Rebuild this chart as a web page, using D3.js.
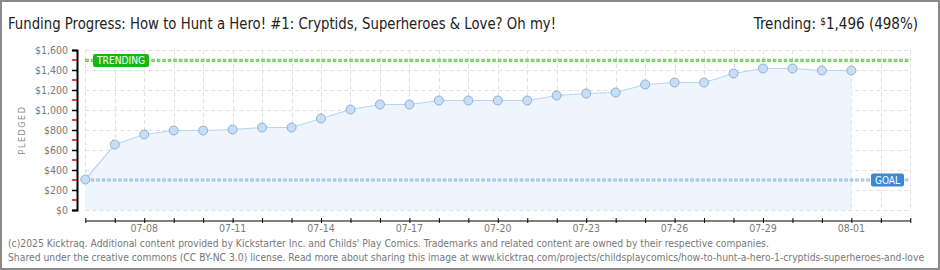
<!DOCTYPE html>
<html>
<head>
<meta charset="utf-8">
<script src="https://cdn.jsdelivr.net/npm/d3@7"></script>
<style>
  body { margin: 0; background: #fff; }
  svg { display: block; }
</style>
</head>
<body>
<div id="chart"></div>
<script>
// data
var days = ["2025-07-06","2025-07-07","2025-07-08","2025-07-09","2025-07-10","2025-07-11","2025-07-12",
  "2025-07-13","2025-07-14","2025-07-15","2025-07-16","2025-07-17","2025-07-18","2025-07-19","2025-07-20",
  "2025-07-21","2025-07-22","2025-07-23","2025-07-24","2025-07-25","2025-07-26","2025-07-27","2025-07-28",
  "2025-07-29","2025-07-30","2025-07-31","2025-08-01"];
var pledged = [305, 655, 755, 795, 795, 805, 825, 825, 915, 1005, 1055, 1055, 1095, 1095, 1095,
  1095, 1145, 1165, 1175, 1255, 1275, 1275, 1365, 1415, 1415, 1395, 1395];
var domainEnd = "2025-08-03";
var goal = 300;
var trending = 1496;
var trendingPct = 498;
var yTicks = [0, 200, 400, 600, 800, 1000, 1200, 1400, 1600];
var yMinorTicks = [100, 300, 500, 700, 900, 1100, 1300, 1500];
var xLabelDays = ["2025-07-08","2025-07-11","2025-07-14","2025-07-17","2025-07-20","2025-07-23","2025-07-26","2025-07-29","2025-08-01"];
var title = "Funding Progress: How to Hunt a Hero! #1: Cryptids, Superheroes & Love? Oh my!";
var footer1 = "(c)2025 Kicktraq. Additional content provided by Kickstarter Inc. and Childs' Play Comics. Trademarks and related content are owned by their respective companies.";
var footer2 = "Shared under the creative commons (CC BY-NC 3.0) license. Read more about sharing this image at www.kicktraq.com/projects/childsplaycomics/how-to-hunt-a-hero-1-cryptids-superheroes-and-love";

var width = 940, height = 270;
var parse = d3.utcParse("%Y-%m-%d");
var data = days.map(function (d, i) { return { date: parse(d), value: pledged[i] }; });
var condensed = '"DejaVu Sans Condensed", "DejaVu Sans", sans-serif';

var svg = d3.select('#chart').append('svg')
  .attr('width', width).attr('height', height)
  .style('font-family', condensed);

svg.append('rect').attr('width', width).attr('height', height).attr('fill', '#fff');

var x = d3.scaleUtc().domain([parse(days[0]), parse(domainEnd)]).range([85.3, 910.3]);
var y = d3.scaleLinear().domain([0, 1600]).range([210, 50]);
var allDays = d3.utcDay.range(parse(days[0]), d3.utcDay.offset(parse(domainEnd), 1));

// grid
var grid = svg.append('g').attr('stroke', '#e0e0e0').attr('stroke-dasharray', '4,3');
grid.selectAll('line.v').data(allDays).enter().append('line')
  .attr('x1', function (d) { return Math.round(x(d)) + 0.5; })
  .attr('x2', function (d) { return Math.round(x(d)) + 0.5; })
  .attr('y1', y(1600)).attr('y2', y(0));
grid.selectAll('line.h').data(yTicks).enter().append('line')
  .attr('x1', x.range()[0]).attr('x2', x.range()[1])
  .attr('y1', function (d) { return y(d) + 0.5; }).attr('y2', function (d) { return y(d) + 0.5; });

// area + line
var area = d3.area().x(function (d) { return x(d.date); }).y0(y(0)).y1(function (d) { return y(d.value); });
svg.append('path').datum(data).attr('d', area).attr('fill', '#eef5fd');
var line = d3.line().x(function (d) { return x(d.date); }).y(function (d) { return y(d.value); });
svg.append('path').datum(data).attr('d', line).attr('fill', 'none').attr('stroke', '#b8d6f3').attr('stroke-width', 1.2);

// goal and trending lines
function dashLine(v, dark, light) {
  svg.append('line').attr('x1', x.range()[0]).attr('x2', x.range()[1])
    .attr('y1', y(v)).attr('y2', y(v))
    .attr('stroke', dark).attr('stroke-width', 3.2).attr('stroke-dasharray', '3.5,2');
  svg.append('line').attr('x1', x.range()[0] + 0.6).attr('x2', x.range()[1])
    .attr('y1', y(v)).attr('y2', y(v))
    .attr('stroke', light).attr('stroke-width', 1.4).attr('stroke-dasharray', '2.3,3.2');
}
dashLine(goal, '#93b9e6', '#bcd5f2');
dashLine(trending, '#6cc85a', '#9ee08f');

// points
svg.selectAll('circle.pt').data(data).enter().append('circle')
  .attr('cx', function (d) { return x(d.date); })
  .attr('cy', function (d) { return y(d.value); })
  .attr('r', 4.5)
  .attr('fill', '#c6def7').attr('stroke', '#93afcf').attr('stroke-width', 1);

// labels on the lines
function tag(label, x0, w, v, color) {
  var g = svg.append('g');
  g.append('rect').attr('x', x0).attr('y', y(v) - 6.5).attr('width', w).attr('height', 13)
    .attr('rx', 2).attr('fill', color);
  g.append('text').attr('x', x0 + 4).attr('y', y(v) + 4)
    .attr('fill', '#fff').style('font-size', '10px')
    .attr('textLength', w - 8).attr('lengthAdjust', 'spacingAndGlyphs').text(label);
}
tag('TRENDING', 93, 56, trending, '#15b80f');
tag('GOAL', 871, 33, goal, '#3c88d6');

// y axis
var yAxis = svg.append('g').attr('transform', 'translate(77,0)')
  .call(d3.axisLeft(y).tickValues(yTicks).tickSize(5).tickPadding(4).tickFormat(d3.format('$,')));
yAxis.select('.domain').attr('stroke', '#000').attr('stroke-width', 2);
yAxis.selectAll('.tick line').attr('stroke', '#000').attr('stroke-width', 1.5);
yAxis.selectAll('.tick text').attr('fill', '#7a7a7a').style('font-size', '10.5px')
  .style('font-family', condensed);
svg.append('g').selectAll('line').data(yMinorTicks).enter().append('line')
  .attr('x1', 72).attr('x2', 77)
  .attr('y1', function (d) { return y(d); }).attr('y2', function (d) { return y(d); })
  .attr('stroke', '#e00000').attr('stroke-width', 1.5);

svg.append('text').attr('transform', 'translate(25,130) rotate(-90)')
  .attr('text-anchor', 'middle').attr('fill', '#888')
  .style('font-size', '9px').style('letter-spacing', '1.5px')
  .text('PLEDGED');

// x axis
var xAxis = svg.append('g').attr('transform', 'translate(0,220.5)')
  .call(d3.axisBottom(x).tickValues(allDays).tickSize(0).tickFormat(''));
xAxis.select('.domain').attr('stroke', '#000');
xAxis.selectAll('.tick line').attr('y1', -2.5).attr('y2', 2.5).attr('stroke', '#000');
svg.append('g').selectAll('text').data(xLabelDays.map(parse)).enter().append('text')
  .attr('x', function (d) { return x(d); }).attr('y', 232)
  .attr('text-anchor', 'middle').attr('fill', '#7a7a7a').style('font-size', '10.5px')
  .text(d3.utcFormat('%m-%d'));

// header
svg.append('text').attr('x', 8).attr('y', 29)
  .style('font-size', '15px').attr('fill', '#222')
  .attr('textLength', 548).attr('lengthAdjust', 'spacingAndGlyphs')
  .text(title);
var tr = svg.append('text').attr('x', 918).attr('y', 29).attr('text-anchor', 'end')
  .style('font-size', '15px').attr('fill', '#222');
tr.append('tspan').text('Trending:  ');
tr.append('tspan').style('font-size', '10px').attr('dy', -4).text('$');
tr.append('tspan').attr('dy', 4).text(d3.format(',')(trending) + ' (' + trendingPct + '%)');

// footer
var f1 = svg.append('text').attr('x', 8).attr('y', 247).attr('fill', '#777')
  .style('font-size', '10px').text(footer1);
var scale = 762 / f1.node().getComputedTextLength();
f1.style('font-size', (10 * scale) + 'px');
svg.append('text').attr('x', 8).attr('y', 260.5).attr('fill', '#777')
  .style('font-size', (10 * scale) + 'px').text(footer2);

// outer border
svg.append('rect').attr('x', 1).attr('y', 1).attr('width', width - 2).attr('height', height - 2)
  .attr('fill', 'none').attr('stroke', '#8a8a8a').attr('stroke-width', 2);
</script>
</body>
</html>
